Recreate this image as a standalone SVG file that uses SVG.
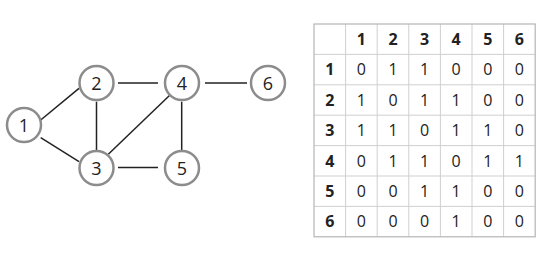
<svg xmlns="http://www.w3.org/2000/svg" width="550" height="254" viewBox="0 0 550 254">
<style>
.node circle{fill:#fff;stroke:#8c8c8c;stroke-width:2.5}
.node text{font-family:"Open Sans","DejaVu Sans",sans-serif;font-size:18px;fill:#222;text-anchor:middle}
.edges line{stroke:#222;stroke-width:1.5}
.grid line{stroke:#cfcfcf;stroke-width:1}
.cell{font-family:"Open Sans","DejaVu Sans",sans-serif;font-size:16px;fill:#222;text-anchor:middle}
.hd{font-weight:bold}
</style>
<rect width="550" height="254" fill="#fff"/>
<g class="edges">
<line x1="40.7" y1="120" x2="79" y2="88.3"/>
<line x1="40.7" y1="137.7" x2="79" y2="161.7"/>
<line x1="96.5" y1="101.7" x2="96.5" y2="150"/>
<line x1="118" y1="83" x2="158" y2="83"/>
<line x1="108.3" y1="154.3" x2="170" y2="95"/>
<line x1="118" y1="167.5" x2="158" y2="167.5"/>
<line x1="181.7" y1="101.7" x2="181.7" y2="150"/>
<line x1="205" y1="83" x2="247" y2="83"/>
</g>
<g id="node1" class="node"><circle cx="24" cy="125" r="17"/><text x="24" y="131.5">1</text></g>
<g id="node2" class="node"><circle cx="96.5" cy="83" r="17"/><text x="96.5" y="89.5">2</text></g>
<g id="node3" class="node"><circle cx="96.5" cy="168" r="17"/><text x="96.5" y="174.5">3</text></g>
<g id="node4" class="node"><circle cx="182" cy="83" r="17"/><text x="182" y="89.5">4</text></g>
<g id="node5" class="node"><circle cx="182" cy="168" r="17"/><text x="182" y="174.5">5</text></g>
<g id="node6" class="node"><circle cx="268" cy="83" r="17"/><text x="268" y="89.5">6</text></g>
<g id="matrix">
<g class="grid">
<line x1="345.6" y1="24" x2="345.6" y2="236.8"/>
<line x1="377.2" y1="24" x2="377.2" y2="236.8"/>
<line x1="408.8" y1="24" x2="408.8" y2="236.8"/>
<line x1="440.4" y1="24" x2="440.4" y2="236.8"/>
<line x1="472" y1="24" x2="472" y2="236.8"/>
<line x1="503.6" y1="24" x2="503.6" y2="236.8"/>
<line x1="314" y1="54.4" x2="535.2" y2="54.4"/>
<line x1="314" y1="84.8" x2="535.2" y2="84.8"/>
<line x1="314" y1="115.2" x2="535.2" y2="115.2"/>
<line x1="314" y1="145.6" x2="535.2" y2="145.6"/>
<line x1="314" y1="176" x2="535.2" y2="176"/>
<line x1="314" y1="206.4" x2="535.2" y2="206.4"/>
</g>
<rect x="314" y="24" width="221.2" height="212.8" fill="none" stroke="#b5b5b5" stroke-width="1.2"/>
<g class="cell hd">
<text x="361.4" y="45">1</text><text x="393" y="45">2</text><text x="424.6" y="45">3</text><text x="456.2" y="45">4</text><text x="487.8" y="45">5</text><text x="519.4" y="45">6</text>
<text x="329.8" y="75.4">1</text><text x="329.8" y="105.8">2</text><text x="329.8" y="136.2">3</text><text x="329.8" y="166.6">4</text><text x="329.8" y="197">5</text><text x="329.8" y="227.4">6</text>
</g>
<g class="cell">
<text x="361.4" y="75.4">0</text><text x="393" y="75.4">1</text><text x="424.6" y="75.4">1</text><text x="456.2" y="75.4">0</text><text x="487.8" y="75.4">0</text><text x="519.4" y="75.4">0</text>
<text x="361.4" y="105.8">1</text><text x="393" y="105.8">0</text><text x="424.6" y="105.8">1</text><text x="456.2" y="105.8">1</text><text x="487.8" y="105.8">0</text><text x="519.4" y="105.8">0</text>
<text x="361.4" y="136.2">1</text><text x="393" y="136.2">1</text><text x="424.6" y="136.2">0</text><text x="456.2" y="136.2">1</text><text x="487.8" y="136.2">1</text><text x="519.4" y="136.2">0</text>
<text x="361.4" y="166.6">0</text><text x="393" y="166.6">1</text><text x="424.6" y="166.6">1</text><text x="456.2" y="166.6">0</text><text x="487.8" y="166.6">1</text><text x="519.4" y="166.6">1</text>
<text x="361.4" y="197">0</text><text x="393" y="197">0</text><text x="424.6" y="197">1</text><text x="456.2" y="197">1</text><text x="487.8" y="197">0</text><text x="519.4" y="197">0</text>
<text x="361.4" y="227.4">0</text><text x="393" y="227.4">0</text><text x="424.6" y="227.4">0</text><text x="456.2" y="227.4">1</text><text x="487.8" y="227.4">0</text><text x="519.4" y="227.4">0</text>
</g>
</g>
</svg>
